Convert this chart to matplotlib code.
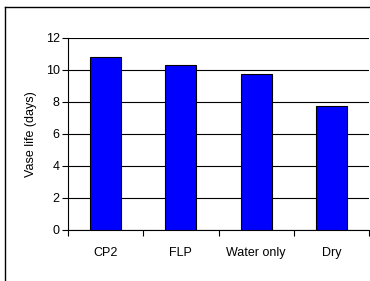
import numpy as np
import matplotlib.pyplot as plt
from matplotlib.lines import Line2D

categories = ['CP2', 'FLP', 'Water only', 'Dry']
vase_life = [10.8, 10.32, 9.78, 7.72]
yticks = [0, 2, 4, 6, 8, 10, 12]

plt.rcParams['font.family'] = ['Liberation Sans', 'DejaVu Sans']

W, H = 370, 281
fig = plt.figure(figsize=(W / 100, H / 100), dpi=100)
ax = fig.add_axes([68 / W, 1 - 230 / H, (369 - 68) / W, (230 - 38) / H])

x = np.arange(len(categories))
ax.bar(x, vase_life, width=0.41, color='#0000FF', edgecolor='black', linewidth=0.8, zorder=3)

ax.set_xlim(-0.5, len(categories) - 0.5)
ax.set_ylim(0, 12)
ax.set_yticks(yticks)
ax.yaxis.grid(True, color='black', linewidth=0.8, zorder=0)
ax.set_axisbelow(True)

ax.set_xticks(x)
ax.set_xticklabels(categories, fontsize=9)
ax.tick_params(axis='x', length=0, pad=12)
ax.set_xticks(np.arange(len(categories) + 1) - 0.5, minor=True)
ax.tick_params(axis='x', which='minor', length=4, width=0.8, direction='out')
ax.tick_params(axis='y', length=4, width=0.8, labelsize=9, pad=2)
ax.set_ylabel('Vase life (days)', fontsize=9, labelpad=6)

for s in ['top', 'right']:
    ax.spines[s].set_visible(False)
for s in ['left', 'bottom']:
    ax.spines[s].set_linewidth(0.8)

# outer frame
fig.add_artist(Line2D([5 / W, 5 / W], [0, 1 - 7 / H], color='black', linewidth=1))
fig.add_artist(Line2D([5 / W, 1], [1 - 7 / H, 1 - 7 / H], color='black', linewidth=1))

fig.savefig('out.png', dpi=100)
